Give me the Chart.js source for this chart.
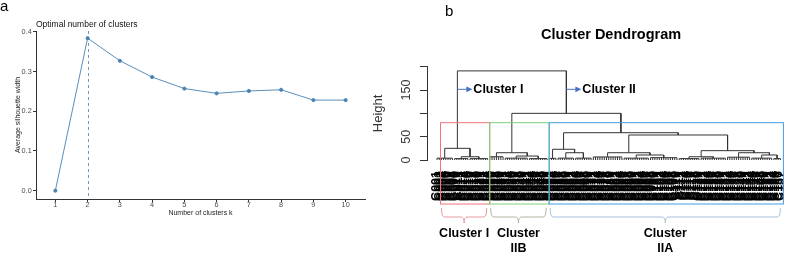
<!DOCTYPE html>
<html>
<head>
<meta charset="utf-8">
<title>Silhouette and cluster dendrogram</title>
<script src="https://cdn.jsdelivr.net/npm/chart.js@4.4.0/dist/chart.umd.min.js"></script>
<style>
    html, body { margin: 0; padding: 0; background: #fff; }
    #wrap { position: relative; width: 789px; height: 254px; overflow: hidden; font-family: "Liberation Sans", Arial, sans-serif; }
    .panel { position: absolute; top: 0; height: 254px; }
    #panelA { left: 0; width: 380px; }
    #panelB { left: 365px; width: 424px; }
    .tag { position: absolute; font-size: 15px; line-height: 15px; color: #000; }
</style>
</head>
<body>
<div id="wrap">
    <div class="panel" id="panelA"><canvas id="silhouetteChart"></canvas></div>
    <div class="panel" id="panelB"><canvas id="dendroChart"></canvas></div>
    <div class="tag" style="left:0px; top:-2px;">a</div>
    <div class="tag" style="left:445px; top:3px;">b</div>
</div>
<script>
/* ================================
   DATA
   ================================ */

// Panel a - average silhouette width per number of clusters
const clusterCounts = [1, 2, 3, 4, 5, 6, 7, 8, 9, 10];
const silhouetteWidths = [0.000, 0.384, 0.327, 0.286, 0.257, 0.245, 0.251, 0.254, 0.228, 0.228];
const silhouetteTicks = [0.0, 0.1, 0.2, 0.3, 0.4];
const optimalK = 2;

// Panel b - dendrogram
// node: [height, left, right]   leaf group: [height, number of leaves]
const dendroTree = [191,
    [25, [4, 8], [7, [3, 7], [3, 9]]],                              // Cluster I
    [100,
        [15.6, [7, 7], [8.5, [4, 11], [3, 9]]],                     // Cluster IIB
        [58.5,                                                      // Cluster IIA
            [23, [3.6, 4], [15.6, [4, 8], [4, 8]]],
            [53.6,
                [15.6, [6.5, 14], [10.7, [4, 12], [5, 13]]],
                [20, [7, [3, 10], [4, 12]], [15.6, [6, 11], [10.7, [4, 10], [3, 4]]]]
            ]
        ]
    ]
];
const heightTicks = [0, 50, 100, 150, 200];
const heightTickLabels = ['0', '50', '', '150', ''];
const calloutHeight = 151.5;
const boxTopHeight = 80;

Chart.defaults.font.family = '"Liberation Sans", Arial, sans-serif';

/* ================================
   DENDROGRAM LAYOUT
   ================================ */

let leafCount = 0;
const segments = [];

function layoutNode(node) {
    if (node.length === 2) {
        const [h, n] = node;
        const first = leafCount + 1;
        leafCount += n;
        const last = leafCount;
        for (let i = first; i <= last; i++) {
            segments.push({ x: i, y: 0 }, { x: i, y: h }, { x: i, y: null });
        }
        segments.push({ x: first, y: h }, { x: last, y: h }, { x: last, y: null });
        return { x: (first + last) / 2, h: h, first: first, last: last };
    }
    const [h, a, b] = node;
    const l = layoutNode(a);
    const r = layoutNode(b);
    segments.push({ x: l.x, y: l.h }, { x: l.x, y: h }, { x: r.x, y: h }, { x: r.x, y: r.h }, { x: r.x, y: null });
    return { x: (l.x + r.x) / 2, h: h, first: l.first, last: r.last, l: l, r: r };
}

const root = layoutNode(dendroTree);
const leafIds = [];
const leafLabels = [];
for (let i = 1; i <= leafCount; i++) {
    leafIds.push(i);
    leafLabels.push('C' + String(i).padStart(3, '0'));
}

const clusters = [
    { node: root.l, lines: ['Cluster I'], box: '#f0747c', brace: '#e39a9c' },
    { node: root.r.l, lines: ['Cluster', 'IIB'], box: '#7fcf7a', brace: '#b4b39c' },
    { node: root.r.r, lines: ['Cluster', 'IIA'], box: '#3f9de6', brace: '#a9c1dc' }
];
const callouts = [
    { node: root.l, text: 'Cluster I' },
    { node: root.r, text: 'Cluster II' }
];

/* ================================
   PLUGINS
   ================================ */

const silhouetteDecor = {
    id: 'silhouetteDecor',
    afterDatasetsDraw(chart) {
        const { ctx, chartArea, scales } = chart;
        const px = Math.round(scales.x.getPixelForValue(optimalK)) + 0.5;
        ctx.save();
        ctx.strokeStyle = '#4682B4';
        ctx.lineWidth = 0.8;
        ctx.setLineDash([3, 3]);
        ctx.beginPath();
        ctx.moveTo(px, chartArea.top);
        ctx.lineTo(px, chartArea.bottom);
        ctx.stroke();
        ctx.restore();
    },
    afterDraw(chart) {
        const { ctx, chartArea } = chart;
        ctx.save();
        ctx.fillStyle = '#111';
        ctx.font = '8.5px "Liberation Sans", Arial, sans-serif';
        ctx.textAlign = 'left';
        ctx.textBaseline = 'alphabetic';
        ctx.fillText('Optimal number of clusters', chartArea.left, 26.5);
        ctx.restore();
    }
};

function drawBrace(ctx, x0, x1, yTop, yMid, yTip) {
    const xc = (x0 + x1) / 2;
    ctx.beginPath();
    ctx.moveTo(x0, yTop);
    ctx.quadraticCurveTo(x0, yMid, x0 + 3, yMid);
    ctx.lineTo(xc - 3, yMid);
    ctx.quadraticCurveTo(xc, yMid, xc, yTip);
    ctx.quadraticCurveTo(xc, yMid, xc + 3, yMid);
    ctx.lineTo(x1 - 3, yMid);
    ctx.quadraticCurveTo(x1, yMid, x1, yTop);
    ctx.stroke();
}

const dendroDecor = {
    id: 'dendroDecor',
    afterDraw(chart) {
        const { ctx, chartArea, scales: { x, y } } = chart;
        ctx.save();

        // title
        ctx.fillStyle = '#000';
        ctx.font = 'bold 14.5px "Liberation Sans", Arial, sans-serif';
        ctx.textAlign = 'center';
        ctx.textBaseline = 'middle';
        ctx.fillText('Cluster Dendrogram', (chartArea.left + chartArea.right) / 2 + 4, 35);

        // Cluster I / Cluster II arrows
        const cy = y.getPixelForValue(calloutHeight);
        callouts.forEach(c => {
            const x0 = x.getPixelForValue(c.node.x);
            ctx.strokeStyle = '#4472c4';
            ctx.fillStyle = '#4472c4';
            ctx.lineWidth = 1;
            ctx.beginPath();
            ctx.moveTo(x0, cy);
            ctx.lineTo(x0 + 10, cy);
            ctx.stroke();
            ctx.beginPath();
            ctx.moveTo(x0 + 9, cy - 2.8);
            ctx.lineTo(x0 + 15, cy);
            ctx.lineTo(x0 + 9, cy + 2.8);
            ctx.closePath();
            ctx.fill();
            ctx.fillStyle = '#000';
            ctx.font = 'bold 12.5px "Liberation Sans", Arial, sans-serif';
            ctx.textAlign = 'left';
            ctx.fillText(c.text, x0 + 16, cy + 0.5);
        });

        // coloured boxes, braces and cluster names
        const boxTop = y.getPixelForValue(boxTopHeight);
        const boxBottom = chartArea.bottom + 44;
        clusters.forEach((c, i) => {
            const prev = clusters[i - 1];
            const next = clusters[i + 1];
            const left = prev
                ? (x.getPixelForValue(prev.node.last) + x.getPixelForValue(c.node.first)) / 2 + 1
                : x.getPixelForValue(c.node.first) + 3.5;
            const right = next
                ? (x.getPixelForValue(c.node.last) + x.getPixelForValue(next.node.first)) / 2 + 1
                : x.getPixelForValue(c.node.last) + 3;
            ctx.strokeStyle = c.box;
            ctx.lineWidth = 1;
            ctx.strokeRect(left, boxTop, right - left, boxBottom - boxTop);

            ctx.strokeStyle = c.brace;
            drawBrace(ctx, left + 1, right - 3, boxBottom + 4, boxBottom + 13, boxBottom + 19);

            const xc = (left + right - 2) / 2;
            ctx.fillStyle = '#000';
            ctx.font = 'bold 12.5px "Liberation Sans", Arial, sans-serif';
            ctx.textAlign = 'center';
            ctx.textBaseline = 'middle';
            c.lines.forEach((line, j) => {
                ctx.fillText(line, xc, boxBottom + 30 + j * 15);
            });
        });
        ctx.restore();
    }
};

/* ================================
   CHARTS
   ================================ */

// Panel a - silhouette line chart
new Chart(document.getElementById('silhouetteChart'), {
    type: 'scatter',
    data: {
        datasets: [{
            data: clusterCounts.map((k, i) => ({ x: k, y: silhouetteWidths[i] })),
            showLine: true,
            borderColor: '#4682B4',
            backgroundColor: '#4682B4',
            borderWidth: 0.9,
            pointRadius: 1.6,
            pointHoverRadius: 1.6,
            tension: 0
        }]
    },
    options: {
        responsive: true,
        maintainAspectRatio: false,
        animation: false,
        layout: { padding: { top: 31, right: 15, left: 0, bottom: 0 } },
        plugins: {
            legend: { display: false },
            tooltip: { enabled: false }
        },
        scales: {
            x: {
                type: 'linear',
                min: 0.4,
                max: 10.6,
                afterBuildTicks: s => { s.ticks = clusterCounts.map(v => ({ value: v })); },
                afterFit: s => { s.height = 55; },
                grid: { drawOnChartArea: false, tickLength: 3, tickColor: '#333' },
                border: { color: '#333', width: 1 },
                ticks: { padding: -1.5, color: '#4d4d4d', font: { size: 7.3 }, maxRotation: 0, autoSkip: false },
                title: { display: true, text: 'Number of clusters k', color: '#222', font: { size: 7 }, padding: { top: 0, bottom: 36.5 } }
            },
            y: {
                min: -0.021,
                max: 0.402,
                afterBuildTicks: s => { s.ticks = silhouetteTicks.map(v => ({ value: v })); },
                afterFit: s => { s.width = 36; },
                grid: { drawOnChartArea: false, tickLength: 3, tickColor: '#333' },
                border: { color: '#333', width: 1 },
                ticks: { padding: 1.3, color: '#4d4d4d', font: { size: 7.3 }, callback: v => v.toFixed(1) },
                title: { display: true, text: 'Average silhouette width', color: '#222', font: { size: 7 }, padding: { top: 13.7, bottom: 0 } }
            }
        }
    },
    plugins: [silhouetteDecor]
});

// Panel b - cluster dendrogram
const plotLeft = 62;
const plotRight = 422;
const leafStep = 343.4 / (leafCount - 1);

new Chart(document.getElementById('dendroChart'), {
    type: 'scatter',
    data: {
        datasets: [{
            data: segments,
            showLine: true,
            spanGaps: false,
            borderColor: '#333',
            borderWidth: 1,
            pointRadius: 0,
            pointHoverRadius: 0
        }]
    },
    options: {
        responsive: true,
        maintainAspectRatio: false,
        animation: false,
        layout: { padding: { top: 66.7, right: 424 - plotRight, left: 0, bottom: 0 } },
        plugins: {
            legend: { display: false },
            tooltip: { enabled: false }
        },
        scales: {
            x: {
                type: 'linear',
                min: 1 - 10 / leafStep,
                max: leafCount + 6.6 / leafStep,
                afterBuildTicks: s => { s.ticks = leafIds.map(v => ({ value: v })); },
                afterFit: s => {
                    s.height = 94;
                    s.paddingLeft = 0;
                    s.paddingRight = 0;
                },
                grid: { display: false, drawTicks: false },
                border: { display: false },
                ticks: {
                    autoSkip: false,
                    minRotation: 90,
                    maxRotation: 90,
                    padding: 11,
                    color: '#000',
                    font: { size: 12.5, weight: 'bold' },
                    callback: (v, i) => leafLabels[i]
                }
            },
            y: {
                min: 0,
                max: 200,
                afterBuildTicks: s => { s.ticks = heightTicks.map(v => ({ value: v })); },
                afterFit: s => {
                    s.width = plotLeft;
                    s.paddingTop = 0;
                    s.paddingBottom = 0;
                },
                grid: { drawOnChartArea: false, tickLength: 7, tickColor: '#333' },
                border: { color: '#333', width: 1 },
                ticks: {
                    autoSkip: false,
                    minRotation: 90,
                    maxRotation: 90,
                    crossAlign: 'center',
                    padding: 3,
                    color: '#333',
                    font: { size: 12.5 },
                    callback: (v, i) => heightTickLabels[i]
                },
                title: { display: true, text: 'Height', color: '#333', font: { size: 13 }, padding: { top: 6, bottom: 0 } }
            }
        }
    },
    plugins: [dendroDecor]
});
</script>
</body>
</html>
